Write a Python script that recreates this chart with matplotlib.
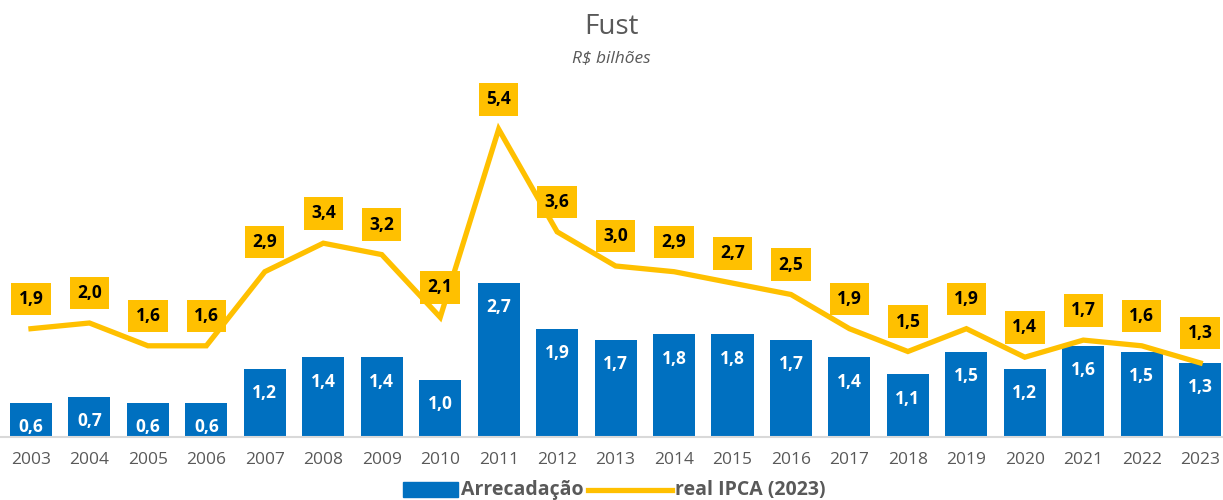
import matplotlib
matplotlib.use("Agg")
import matplotlib.pyplot as plt
from matplotlib.lines import Line2D
from matplotlib.patches import Rectangle

plt.rcParams['font.family'] = ['Open Sans', 'DejaVu Sans']

years = [str(y) for y in range(2003, 2024)]
arrecadacao = [0.6, 0.7, 0.6, 0.6, 1.2, 1.4, 1.4, 1.0, 2.7, 1.9, 1.7, 1.8, 1.8, 1.7, 1.4, 1.1, 1.5, 1.2, 1.6, 1.5, 1.3]
real_ipca = [1.9, 2.0, 1.6, 1.6, 2.9, 3.4, 3.2, 2.1, 5.4, 3.6, 3.0, 2.9, 2.7, 2.5, 1.9, 1.5, 1.9, 1.4, 1.7, 1.6, 1.3]
series_names = ['Arrecadação', 'real IPCA (2023)']

def fmt(v):
    return f"{v:.1f}".replace('.', ',')

BLUE = '#0070C0'
YELLOW = '#FFC000'
GRAY = '#595959'

W, H = 1223, 500
fig = plt.figure(figsize=(W / 100, H / 100), dpi=100)
ax = fig.add_axes([0.0, 0.126, 1.0, 0.684])
x = list(range(len(years)))

ax.bar(x, arrecadacao, width=0.72, color=BLUE, zorder=2)
ax.plot(x, real_ipca, color=YELLOW, lw=3.8, zorder=3, solid_joinstyle='miter')

for xi, v in zip(x, arrecadacao):
    ax.annotate(fmt(v), (xi, v), xytext=(0, -17.5), textcoords='offset points',
                ha='center', va='center', color='white', fontsize=12.5, fontweight='bold', zorder=4)

for xi, v in zip(x, real_ipca):
    ax.annotate(fmt(v), (xi, v), xytext=(0, 21.5), textcoords='offset points',
                ha='center', va='center', color='black', fontsize=12.5, fontweight='bold', zorder=5,
                bbox=dict(boxstyle='square,pad=0.42', fc=YELLOW, ec='none'))

ax.set_xlim(-0.53, 20.39)
ax.set_ylim(0, 6.0)
for s in ['top', 'right', 'left']:
    ax.spines[s].set_visible(False)
ax.spines['bottom'].set_color('#D9D9D9')
ax.spines['bottom'].set_linewidth(1.5)
ax.set_yticks([])
ax.set_xticks(x)
ax.set_xticklabels(years, color=GRAY, fontsize=12.5)
ax.tick_params(axis='x', length=0, pad=11)

fig.text(0.5, 1 - 27 / H, 'Fust', ha='center', va='center', color=GRAY, fontsize=20)
fig.text(0.5, 1 - 58 / H, 'R$ bilhões', ha='center', va='center', color=GRAY, fontsize=12.5, style='italic')

# legend (manual, figure pixel coords)
ly = 1 - 490 / H
fig.patches.append(Rectangle((403 / W, 1 - 497 / H), 55 / W, 15 / H, transform=fig.transFigure,
                             color=BLUE, figure=fig))
fig.text(461 / W, ly, series_names[0], ha='left', va='center', color=GRAY, fontsize=14, fontweight='bold')
fig.lines.append(Line2D([588 / W, 672 / W], [ly, ly], transform=fig.transFigure, color=YELLOW, lw=3.8, figure=fig))
fig.text(675 / W, ly, series_names[1], ha='left', va='center', color=GRAY, fontsize=14, fontweight='bold')

fig.savefig('out.png', dpi=100)
